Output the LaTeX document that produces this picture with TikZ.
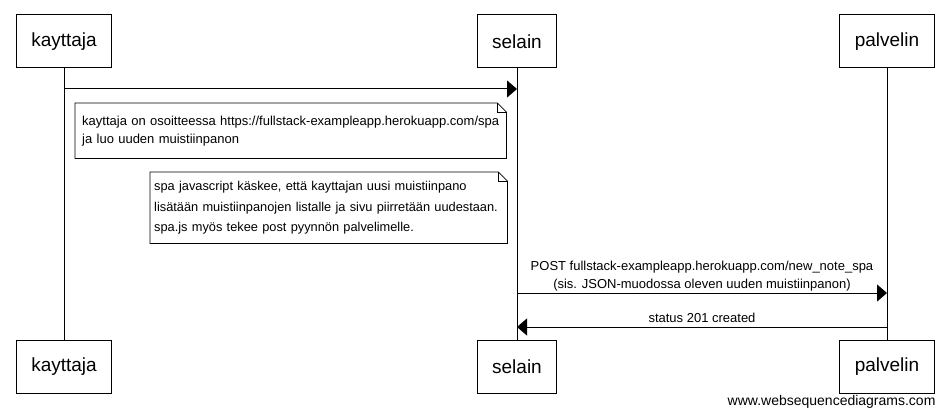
\documentclass[tikz,border=0pt]{standalone}
\usepackage{fontspec}
\setmainfont{Liberation Sans}
\usetikzlibrary{positioning,arrows.meta}

\begin{document}
\begin{tikzpicture}[x=1pt,y=-1pt,
    actor/.style={draw,line width=1pt,minimum height=53pt,inner xsep=15pt,
        font=\fontsize{19}{22}\selectfont},
    lifeline/.style={line width=1pt},
    msg/.style={line width=1pt,-{Triangle[length=10pt,width=17pt]}},
    notebox/.style={anchor=north west,inner xsep=7pt,inner ysep=0pt,align=left,
        font=\fontsize{13}{18}\selectfont},
    notefold/.style={line width=0.8pt},
    msgtext/.style={font=\fontsize{13}{18}\selectfont,align=center}]
    \useasboundingbox (0,0) rectangle (947,417);

    % participants
    \node [actor] (ktop) at (64,41.5) {kayttaja};
    \node [actor] (stop) at (517,41.5) {selain};
    \node [actor] (ptop) at (887,41.5) {palvelin};
    \node [actor] (kbot) at (64,366.5) {kayttaja};
    \node [actor] (sbot) at (517,366.5) {selain};
    \node [actor] (pbot) at (887,366.5) {palvelin};

    \draw [lifeline] (ktop) -- (kbot);
    \draw [lifeline] (stop) -- (sbot);
    \draw [lifeline] (ptop) -- (pbot);

    % message points
    \coordinate (k1) at (ktop |- 0,89);
    \coordinate (s1) at (stop |- 0,89);
    \coordinate (s2) at (stop |- 0,293);
    \coordinate (p2) at (ptop |- 0,293);
    \coordinate (p3) at (ptop |- 0,327);
    \coordinate (s3) at (stop |- 0,327);

    \draw [msg] (k1) -- (s1);

    % notes
    \node [notebox,text width=417pt,minimum height=55pt] (note1) at (75,103)
        {kayttaja on osoitteessa https://fullstack-exampleapp.herokuapp.com/spa\\
         ja luo uuden muistiinpanon};
    \draw [notefold] (note1.south west) -- (note1.north west)
        -- ([xshift=-9pt]note1.north east) -- ([yshift=-9pt]note1.north east)
        -- (note1.south east) -- cycle;
    \draw [notefold] ([xshift=-9pt]note1.north east) -- ([xshift=-9pt,yshift=-9pt]note1.north east)
        -- ([yshift=-9pt]note1.north east);

    \node [notebox,text width=349pt,inner xsep=4pt,minimum height=71pt,
        font=\fontsize{12.8}{20.5}\selectfont] (note2) at (150,172)
        {spa javascript käskee, että kayttajan uusi muistiinpano\\
         lisätään muistiinpanojen listalle ja sivu piirretään uudestaan.\\
         spa.js myös tekee post pyynnön palvelimelle.};
    \draw [notefold] (note2.south west) -- (note2.north west)
        -- ([xshift=-9pt]note2.north east) -- ([yshift=-9pt]note2.north east)
        -- (note2.south east) -- cycle;
    \draw [notefold] ([xshift=-9pt]note2.north east) -- ([xshift=-9pt,yshift=-9pt]note2.north east)
        -- ([yshift=-9pt]note2.north east);

    \draw [msg] (s2) -- node [msgtext,above=-2pt] {POST fullstack-exampleapp.herokuapp.com/new\_note\_spa\\
        (sis. JSON-muodossa oleven uuden muistiinpanon)} (p2);
    \draw [msg] (p3) -- node [msgtext,above=1pt] {status 201 created} (s3);

    \node [msgtext,font=\fontsize{14}{16}\selectfont,anchor=east] (footer) at (939,402)
        {www.websequencediagrams.com};
\end{tikzpicture}
\end{document}
